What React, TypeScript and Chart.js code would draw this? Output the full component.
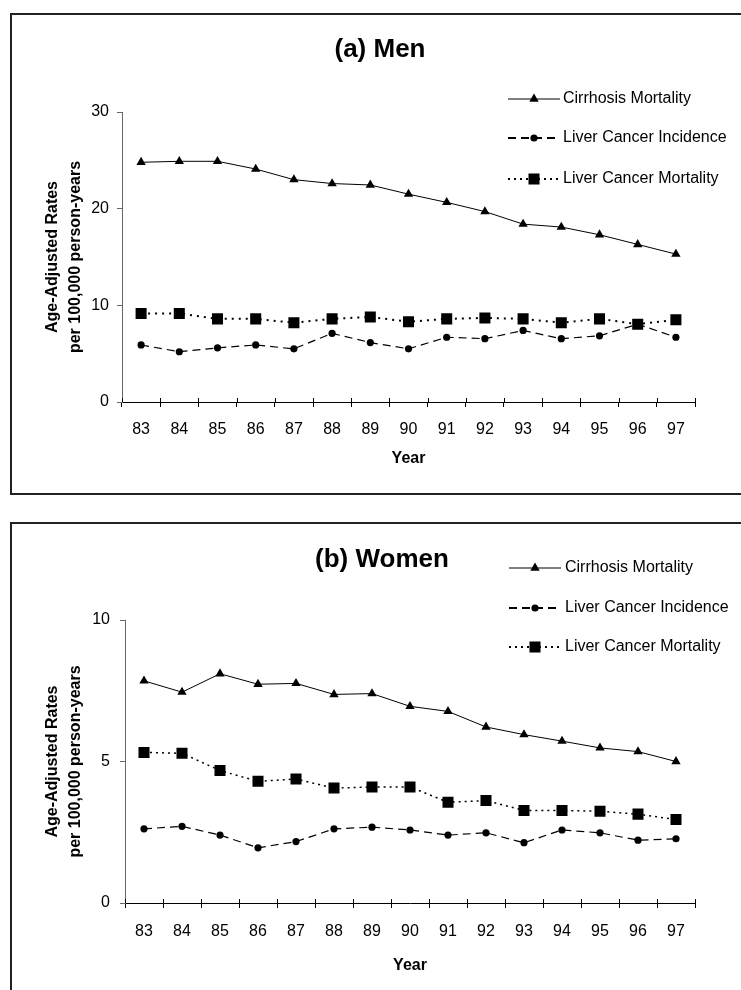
import React, { useEffect, useRef } from 'react';
import { Chart, registerables } from 'chart.js';

Chart.register(...registerables);

const FONT = "'Liberation Sans', Arial, Helvetica, sans-serif";

const years = ['83', '84', '85', '86', '87', '88', '89', '90', '91', '92', '93', '94', '95', '96', '97'];
const seriesLabels = ['Cirrhosis Mortality', 'Liver Cancer Incidence', 'Liver Cancer Mortality'];
const yTitle = ['Age-Adjusted Rates', 'per 100,000 person-years'];
const xTitle = 'Year';

const menTitle = '(a) Men';
const menCirrhosis = [24.8, 24.9, 24.9, 24.1, 23.0, 22.6, 22.45, 21.5, 20.65, 19.7, 18.4, 18.1, 17.3, 16.3, 15.3];
const menIncidence = [5.9, 5.2, 5.6, 5.9, 5.5, 7.1, 6.15, 5.5, 6.7, 6.55, 7.4, 6.55, 6.85, 8.05, 6.7];
const menMortality = [9.15, 9.15, 8.6, 8.6, 8.2, 8.6, 8.8, 8.3, 8.6, 8.7, 8.6, 8.2, 8.6, 8.05, 8.5];
const menTicks = [0, 10, 20, 30];

const womenTitle = '(b) Women';
const womenCirrhosis = [7.85, 7.45, 8.1, 7.73, 7.76, 7.37, 7.4, 6.95, 6.77, 6.22, 5.95, 5.72, 5.48, 5.35, 5.0];
const womenIncidence = [2.62, 2.71, 2.4, 1.95, 2.17, 2.62, 2.68, 2.58, 2.4, 2.48, 2.13, 2.58, 2.48, 2.22, 2.27];
const womenMortality = [5.32, 5.29, 4.68, 4.3, 4.38, 4.06, 4.1, 4.1, 3.56, 3.62, 3.27, 3.27, 3.24, 3.14, 2.95];
const womenTicks = [0, 5, 10];

function drawMarker(ctx: CanvasRenderingContext2D, style: string, x: number, y: number, r: number) {
  ctx.beginPath();
  if (style === 'triangle') {
    ctx.moveTo(x, y - r);
    ctx.lineTo(x + 0.866 * r, y + 0.5 * r);
    ctx.lineTo(x - 0.866 * r, y + 0.5 * r);
    ctx.closePath();
  } else if (style === 'rect') {
    const s = Math.SQRT1_2 * r;
    ctx.rect(x - s, y - s, 2 * s, 2 * s);
  } else {
    ctx.arc(x, y, r, 0, Math.PI * 2);
  }
  ctx.fill();
}

const sideLegend = {
  id: 'sideLegend',
  afterDraw(chart: any, _args: any, opts: any) {
    const ctx: CanvasRenderingContext2D = chart.ctx;
    ctx.save();
    chart.data.datasets.forEach((ds: any, i: number) => {
      const y = opts.rows[i];
      ctx.strokeStyle = ds.borderColor;
      ctx.lineWidth = opts.widths[i];
      ctx.setLineDash(opts.dashes[i]);
      ctx.beginPath();
      ctx.moveTo(opts.x0, y);
      ctx.lineTo(opts.x1, y);
      ctx.stroke();
      ctx.setLineDash([]);
      ctx.fillStyle = ds.pointBackgroundColor;
      drawMarker(ctx, ds.pointStyle, (opts.x0 + opts.x1) / 2, y, ds.pointRadius);
      ctx.fillStyle = '#000';
      ctx.font = `16px ${FONT}`;
      ctx.textAlign = 'left';
      ctx.textBaseline = 'middle';
      ctx.fillText(ds.label, opts.textX, y);
    });
    ctx.restore();
  },
};

const innerTicks = {
  id: 'innerTicks',
  afterDraw(chart: any) {
    const s = chart.scales.x;
    const n = chart.data.labels.length;
    const step = (s.right - s.left) / n;
    const ctx: CanvasRenderingContext2D = chart.ctx;
    ctx.save();
    ctx.strokeStyle = '#000';
    ctx.lineWidth = 1;
    for (let i = 0; i <= n; i++) {
      const x = Math.round(s.left + i * step) + 0.5;
      ctx.beginPath();
      ctx.moveTo(x, s.top - 4);
      ctx.lineTo(x, s.top);
      ctx.stroke();
    }
    ctx.restore();
  },
};

interface Geo {
  padL: number;
  padB: number;
  yWidth: number;
  xHeight: number;
  titleTop: number;
  titleBottom: number;
  yTitlePad: number;
  xTickPad: number;
  yTickPad: number;
  legendRows: number[];
  legendX0: number;
  legendX1: number;
  legendTextX: number;
  dotWidth: number;
  dotDash: number[];
}

function makeConfig(title: string, cirr: number[], inc: number[], mort: number[], ticks: number[], g: Geo): any {
  const datasets = [
    {
      label: seriesLabels[0],
      data: cirr,
      borderColor: '#000',
      borderWidth: 1,
      borderDash: [],
      pointStyle: 'triangle',
      pointRadius: 5.4,
      pointBackgroundColor: '#000',
      pointBorderColor: '#000',
      pointBorderWidth: 0,
      tension: 0,
      fill: false,
    },
    {
      label: seriesLabels[1],
      data: inc,
      borderColor: '#000',
      borderWidth: 1.2,
      borderDash: [8, 5],
      pointStyle: 'circle',
      pointRadius: 3.6,
      pointBackgroundColor: '#000',
      pointBorderColor: '#000',
      pointBorderWidth: 0,
      tension: 0,
      fill: false,
    },
    {
      label: seriesLabels[2],
      data: mort,
      borderColor: '#000',
      borderWidth: g.dotWidth,
      borderDash: g.dotDash,
      pointStyle: 'rect',
      pointRadius: 7.8,
      pointBackgroundColor: '#000',
      pointBorderColor: '#000',
      pointBorderWidth: 0,
      tension: 0,
      fill: false,
    },
  ];
  return {
    type: 'line',
    data: { labels: years, datasets },
    plugins: [sideLegend, innerTicks],
    options: {
      responsive: false,
      animation: false,
      devicePixelRatio: 1,
      events: [],
      layout: { padding: { left: g.padL, right: 46, top: 0, bottom: g.padB } },
      plugins: {
        legend: { display: false },
        tooltip: { enabled: false },
        title: {
          display: true,
          text: title,
          color: '#000',
          font: { family: FONT, size: 26, weight: 'bold' },
          padding: { top: g.titleTop, bottom: g.titleBottom },
        },
        sideLegend: {
          rows: g.legendRows, x0: g.legendX0, x1: g.legendX1, textX: g.legendTextX,
          widths: [1, 2, 2], dashes: [[], [8, 5], [2, 4]],
        },
      },
      scales: {
        x: {
          type: 'category',
          offset: true,
          grid: { display: true, offset: true, drawOnChartArea: false, drawTicks: true, tickLength: 5, color: '#000', lineWidth: 1 },
          border: { display: true, color: '#000', width: 1 },
          ticks: { color: '#000', font: { family: FONT, size: 16 }, padding: g.xTickPad, maxRotation: 0, autoSkip: false },
          title: { display: true, text: xTitle, color: '#000', font: { family: FONT, size: 16, weight: 'bold' }, padding: 0 },
          afterFit: (s: any) => { s.height = g.xHeight; },
        },
        y: {
          min: ticks[0],
          max: ticks[ticks.length - 1],
          grid: { display: true, drawOnChartArea: false, drawTicks: true, tickLength: 5, color: '#666', lineWidth: 1 },
          border: { display: true, color: '#666', width: 1 },
          ticks: { stepSize: ticks[1] - ticks[0], color: '#000', font: { family: FONT, size: 16 }, padding: g.yTickPad },
          title: {
            display: true,
            text: yTitle,
            color: '#000',
            font: { family: FONT, size: 16, weight: 'bold', lineHeight: '23px' },
            padding: { top: g.yTitlePad, bottom: 0 },
          },
          afterFit: (s: any) => { s.width = g.yWidth; },
        },
      },
    },
  };
}

export default function App() {
  const c1 = useRef<HTMLCanvasElement>(null);
  const c2 = useRef<HTMLCanvasElement>(null);

  useEffect(() => {
    Chart.defaults.font.family = FONT;
    const ch1 = new Chart(
      c1.current as HTMLCanvasElement,
      makeConfig(menTitle, menCirrhosis, menIncidence, menMortality, menTicks, {
        padL: 65, padB: 32, yWidth: 57, xHeight: 66, titleTop: 34.4, titleBottom: 46.4, yTitlePad: -23.5,
        xTickPad: 13, yTickPad: 8, legendRows: [99, 138, 179], legendX0: 508, legendX1: 560, legendTextX: 563,
        dotWidth: 2, dotDash: [2, 5],
      })
    );
    const ch2 = new Chart(
      c2.current as HTMLCanvasElement,
      makeConfig(womenTitle, womenCirrhosis, womenIncidence, womenMortality, womenTicks, {
        padL: 69, padB: 15, yWidth: 56, xHeight: 72, titleTop: 44.4, titleBottom: 44.4, yTitlePad: -27.5,
        xTickPad: 14, yTickPad: 10, legendRows: [68, 108, 147], legendX0: 509, legendX1: 561, legendTextX: 565,
        dotWidth: 1.5, dotDash: [2, 4],
      })
    );
    return () => {
      ch1.destroy();
      ch2.destroy();
    };
  }, []);

  return (
    <div style={{ position: 'fixed', left: 0, top: 0, width: 741, height: 990, overflow: 'hidden', background: '#fff' }}>
      <div style={{ position: 'absolute', left: 10, top: 13, width: 760, height: 482, border: '2px solid #222', boxSizing: 'border-box' }} />
      <div style={{ position: 'absolute', left: 10, top: 522, width: 760, height: 520, border: '2px solid #222', boxSizing: 'border-box' }} />
      <canvas ref={c1} width={741} height={500} style={{ position: 'absolute', left: 0, top: 0, width: 741, height: 500 }} />
      <canvas ref={c2} width={741} height={490} style={{ position: 'absolute', left: 0, top: 500, width: 741, height: 490 }} />
    </div>
  );
}
